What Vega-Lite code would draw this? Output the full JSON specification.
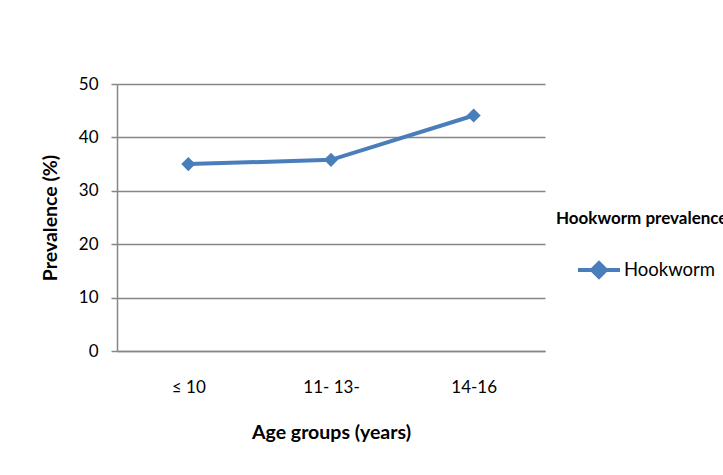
{
  "$schema": "https://vega.github.io/schema/vega-lite/v6.json",
  "autosize": "none",
  "width": 428,
  "height": 267,
  "padding": {"left": 117, "top": 84, "right": 178, "bottom": 124},
  "background": "white",
  "config": {
    "font": "Lato",
    "view": {"stroke": null},
    "axis": {"labelColor": "black", "titleColor": "black", "domainColor": "#868686", "tickColor": "#868686", "gridColor": "#868686"}
  },
  "data": {
    "values": [
      {"age": "≤ 10", "prevalence": 35.0, "series": "Hookworm"},
      {"age": "11- 13-", "prevalence": 35.8, "series": "Hookworm"},
      {"age": "14-16", "prevalence": 44.1, "series": "Hookworm"}
    ]
  },
  "encoding": {
    "x": {
      "field": "age",
      "type": "nominal",
      "sort": null,
      "scale": {"paddingInner": 0, "paddingOuter": 0},
      "axis": {
        "title": "Age groups (years)",
        "labelAngle": 0,
        "labelFontSize": 17,
        "labelPadding": 28,
        "ticks": false,
        "titleFontSize": 19.5,
        "titleFontWeight": "bold",
        "titlePadding": 28,
        "domainWidth": 1.5
      }
    },
    "y": {
      "field": "prevalence",
      "type": "quantitative",
      "scale": {"domain": [0, 50]},
      "axis": {
        "title": "Prevalence (%)",
        "values": [0, 10, 20, 30, 40, 50],
        "labelFontSize": 17,
        "labelPadding": 13,
        "tickSize": 6,
        "tickWidth": 1.5,
        "gridWidth": 1.5,
        "domainWidth": 1.5,
        "titleFontSize": 19.5,
        "titleFontWeight": "bold",
        "titlePadding": 18
      }
    }
  },
  "layer": [
    {
      "mark": {"type": "line", "strokeWidth": 4},
      "encoding": {
        "color": {
          "field": "series",
          "type": "nominal",
          "scale": {"range": ["#4a7ebb"]},
          "legend": {
            "title": "Hookworm prevalence",
            "orient": "none",
            "legendX": 439,
            "legendY": 127,
            "titleFontSize": 17,
            "titleFontWeight": "bold",
            "titleColor": "black",
            "titleLimit": 400,
            "titlePadding": 19,
            "labelFontSize": 18.5,
            "labelColor": "black",
            "labelOffset": 2,
            "symbolOffset": 20,
            "symbolType": "M-1,0H1M-0.33,0L0,-0.33L0.33,0L0,0.33Z",
            "symbolSize": 1764,
            "symbolStrokeWidth": 4,
            "symbolStrokeColor": "#4a7ebb",
            "symbolFillColor": "#4a7ebb"
          }
        }
      }
    },
    {
      "mark": {"type": "point", "shape": "diamond", "filled": true, "size": 200, "opacity": 1, "color": "#4a7ebb"}
    }
  ]
}
